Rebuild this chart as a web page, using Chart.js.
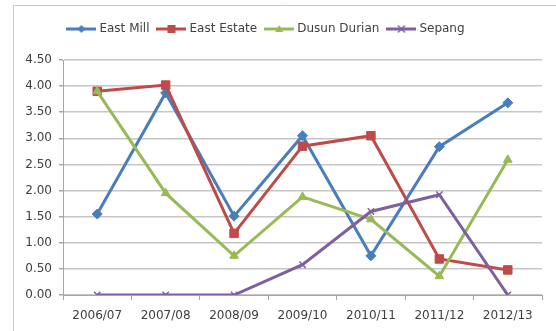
<!DOCTYPE html>
<html>
<head>
<meta charset="utf-8">
<script src="https://cdn.jsdelivr.net/npm/chart.js@4.4.0/dist/chart.umd.min.js"></script>
<style>
  html, body { margin: 0; padding: 0; background: #ffffff; }
  #wrap { width: 556px; height: 331px; position: relative; }
</style>
</head>
<body>
<div id="wrap"><canvas id="c" width="556" height="331"></canvas></div>
<script>
// Seasons on the category axis
const categories = ['2006/07', '2007/08', '2008/09', '2009/10', '2010/11', '2011/12', '2012/13'];

// Values per site
const eastMill    = [1.55, 3.87, 1.51, 3.05, 0.75, 2.84, 3.68];
const eastEstate  = [3.90, 4.02, 1.18, 2.85, 3.05, 0.69, 0.48];
const dusunDurian = [3.90, 1.95, 0.75, 1.88, 1.45, 0.36, 2.59];
const sepang      = [0.00, 0.00, 0.00, 0.58, 1.60, 1.92, 0.00];

const seriesNames = ['East Mill', 'East Estate', 'Dusun Durian', 'Sepang'];

// Value axis range and step
const yMin = 0;
const yMax = 4.5;
const yStep = 0.5;

const colors = ['#4A7EBB', '#BE4B48', '#98B954', '#7D60A0'];
const markers = ['rectRot', 'rect', 'triangle', 'crossRot'];
const markerRadius = [5, 6, 5, 4.5];

const FONT = 'DejaVu Sans';

// Small swatch: line with marker in the middle, used for the legend
function legendSwatch(color, style) {
  const cv = document.createElement('canvas');
  cv.width = 30; cv.height = 10;
  const g = cv.getContext('2d');
  g.strokeStyle = color; g.fillStyle = color; g.lineWidth = 3;
  g.beginPath(); g.moveTo(0, 5); g.lineTo(30, 5); g.stroke();
  const cx = 15, cy = 5;
  g.lineWidth = 1.5;
  if (style === 'rectRot') {
    g.beginPath(); g.moveTo(cx, cy - 4); g.lineTo(cx + 4, cy); g.lineTo(cx, cy + 4); g.lineTo(cx - 4, cy); g.closePath(); g.fill();
  } else if (style === 'rect') {
    g.fillRect(cx - 4, cy - 4, 8, 8);
  } else if (style === 'triangle') {
    g.beginPath(); g.moveTo(cx, cy - 4); g.lineTo(cx + 4, cy + 3); g.lineTo(cx - 4, cy + 3); g.closePath(); g.fill();
  } else {
    g.beginPath(); g.moveTo(cx - 3.5, cy - 3.5); g.lineTo(cx + 3.5, cy + 3.5); g.moveTo(cx + 3.5, cy - 3.5); g.lineTo(cx - 3.5, cy + 3.5); g.stroke();
  }
  return cv;
}

const values = [eastMill, eastEstate, dusunDurian, sepang];
const datasets = values.map((v, i) => ({
  label: seriesNames[i],
  data: v,
  borderColor: colors[i],
  backgroundColor: colors[i],
  borderWidth: 3,
  pointStyle: markers[i],
  pointRadius: markerRadius[i],
  pointBorderWidth: markers[i] === 'crossRot' ? 1.5 : 1,
  pointBorderColor: colors[i],
  pointBackgroundColor: colors[i],
  tension: 0,
  fill: false,
  order: -i
}));

// Chart frame: thin grey line along the left and top edges
const framePlugin = {
  id: 'frame',
  beforeDraw(chart) {
    const ctx = chart.ctx;
    ctx.save();
    ctx.strokeStyle = '#c8c8c8';
    ctx.lineWidth = 1;
    ctx.beginPath();
    ctx.moveTo(13.5, 331);
    ctx.lineTo(13.5, 5.5);
    ctx.lineTo(556, 5.5);
    ctx.stroke();
    ctx.restore();
  }
};

// Fix the legend block height so the plot starts at a set offset,
// and nudge the centred legend row a little to the left
const legendLayoutPlugin = {
  id: 'legendLayout',
  beforeInit(chart) {
    const orig = chart.legend.fit;
    chart.legend.fit = function () {
      orig.call(this);
      this.height = 47;
    };
  },
  afterLayout(chart) {
    chart.legend.right -= 22;
  }
};

new Chart(document.getElementById('c'), {
  type: 'line',
  data: { labels: categories, datasets: datasets },
  plugins: [framePlugin, legendLayoutPlugin],
  options: {
    responsive: false,
    animation: false,
    layout: { padding: { left: 14, right: 14, top: 13, bottom: 4 } },
    plugins: {
      tooltip: { enabled: false },
      legend: {
        position: 'top',
        labels: {
          usePointStyle: true,
          pointStyleWidth: 24,
          padding: 10,
          color: '#404040',
          font: { family: FONT, size: 12 },
          sort: (a, b) => a.datasetIndex - b.datasetIndex,
          generateLabels(chart) {
            return chart.data.datasets.map((ds, i) => ({
              text: ds.label,
              datasetIndex: i,
              fillStyle: colors[i],
              strokeStyle: colors[i],
              lineWidth: 0,
              fontColor: '#404040',
              pointStyle: legendSwatch(colors[i], markers[i]),
              hidden: false
            }));
          }
        }
      }
    },
    scales: {
      x: {
        type: 'category',
        offset: true,
        afterFit(scale) { scale.height = 32; },
        grid: {
          offset: true,
          drawOnChartArea: false,
          drawTicks: true,
          tickLength: 5,
          color: '#a6a6a6'
        },
        border: { color: '#a6a6a6', width: 1 },
        ticks: {
          color: '#404040',
          font: { family: FONT, size: 12 },
          padding: 9,
          maxRotation: 0,
          autoSkip: false
        }
      },
      y: {
        min: yMin,
        max: yMax,
        afterFit(scale) { scale.width = 49; },
        grid: {
          color: '#c6c6c6',
          lineWidth: 1.5,
          drawTicks: true,
          tickLength: 4,
          tickColor: '#a6a6a6'
        },
        border: { color: '#a6a6a6', width: 1 },
        ticks: {
          stepSize: yStep,
          color: '#404040',
          font: { family: FONT, size: 12 },
          padding: 7,
          callback: (v) => Number(v).toFixed(2)
        }
      }
    }
  }
});
</script>
</body>
</html>
